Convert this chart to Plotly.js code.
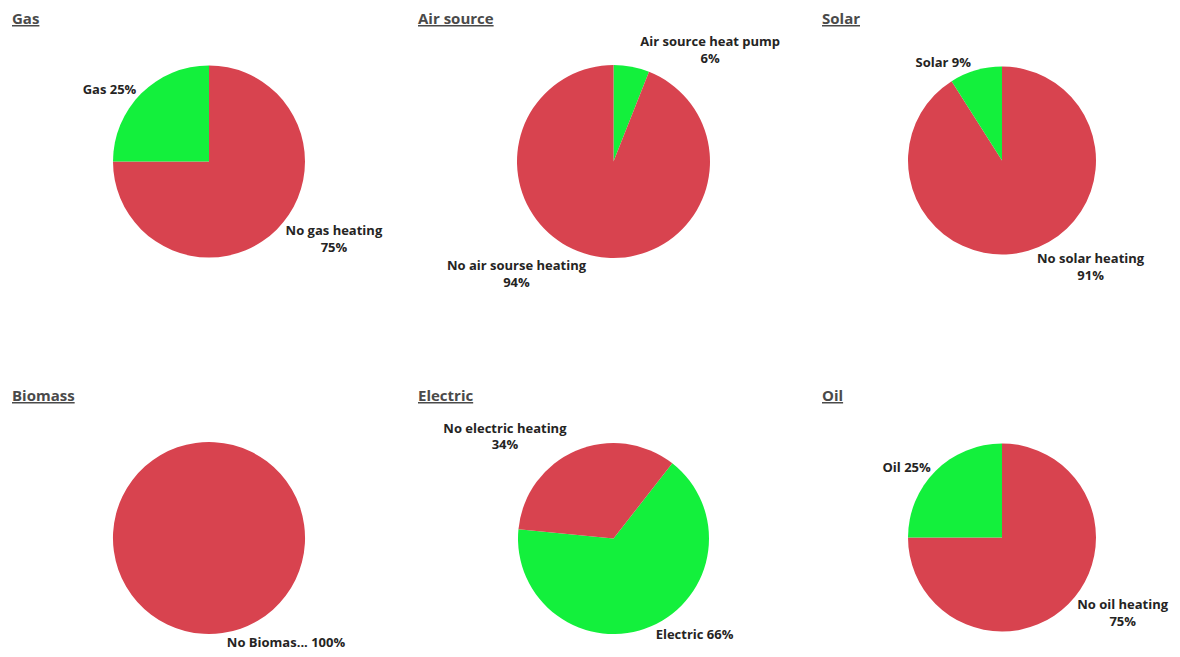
<!DOCTYPE html>
<html>
<head>
<meta charset="utf-8">
<script src="https://cdn.plot.ly/plotly-3.0.1.min.js"></script>
<style>html,body{margin:0;padding:0;background:#fff;}#chart{width:1180px;height:657px;}</style>
</head>
<body>
<div id="chart"></div>
<script>
// ---- data ----
const titles = ['Gas', 'Air source', 'Solar', 'Biomass', 'Electric', 'Oil'];

const gasLabels = ['No gas heating', 'Gas'];
const gasValues = [75, 25];

const airLabels = ['Air source heat pump', 'No air sourse heating'];
const airValues = [6, 94];

const solarLabels = ['No solar heating', 'Solar'];
const solarValues = [91, 9];

const biomassLabels = ['No Biomas...'];
const biomassValues = [100];

const electricLabels = ['Electric', 'No electric heating'];
const electricValues = [66, 34];

const oilLabels = ['No oil heating', 'Oil'];
const oilValues = [75, 25];

// ---- styles ----
const RED = '#D8434F';
const GREEN = '#13F03C';
const colorFor = l => (l.startsWith('No ') ? RED : GREEN);

const W = 1180, H = 657;
function dom(x0, x1, y0, y1) {
  return { x: [x0 / W, x1 / W], y: [1 - y1 / H, 1 - y0 / H] };
}

const two = '%{label}<br>%{percent:.0%}';
const one = '%{label} %{percent:.0%}';

const pies = [
  { labels: gasLabels, values: gasValues, domain: dom(113, 305, 65, 258), rotation: 0, tt: [two, one] },
  { labels: airLabels, values: airValues, domain: dom(517, 710, 65, 258), rotation: 0, tt: [two, two] },
  { labels: solarLabels, values: solarValues, domain: dom(908, 1096, 65, 256), rotation: 0, tt: [two, one] },
  { labels: biomassLabels, values: biomassValues, domain: dom(113, 305, 442, 634), rotation: -8, tt: [one] },
  { labels: electricLabels, values: electricValues, domain: dom(517, 710, 443, 634), rotation: 38, tt: [one, two] },
  { labels: oilLabels, values: oilValues, domain: dom(908, 1096, 443, 632), rotation: 0, tt: [two, one] }
];

const data = pies.map(p => ({
  type: 'pie',
  labels: p.labels,
  values: p.values,
  domain: p.domain,
  sort: false,
  direction: 'clockwise',
  rotation: p.rotation,
  textposition: 'outside',
  texttemplate: p.tt,
  outsidetextfont: { family: 'Open Sans, sans-serif', size: 13, color: '#252423', weight: 700 },
  marker: { colors: p.labels.map(colorFor), line: { width: 0 } },
  automargin: false,
  showlegend: false,
  hoverinfo: 'label+percent'
}));

const titlePos = [[10, 18], [416, 18], [820, 18], [10, 395], [416, 395], [820, 395]];
const annotations = titles.map((t, i) => ({
  text: '<u>' + t + '</u>',
  xref: 'paper', yref: 'paper',
  x: titlePos[i][0] / W, y: 1 - titlePos[i][1] / H,
  xanchor: 'left', yanchor: 'middle',
  showarrow: false,
  font: { family: 'Open Sans, sans-serif', size: 15, color: '#4a4a4a', weight: 700 }
}));

Plotly.newPlot('chart', data, {
  width: W, height: H,
  margin: { l: 0, r: 0, t: 0, b: 0 },
  paper_bgcolor: '#ffffff',
  annotations: annotations
}, { displayModeBar: false, staticPlot: true });
</script>
</body>
</html>
